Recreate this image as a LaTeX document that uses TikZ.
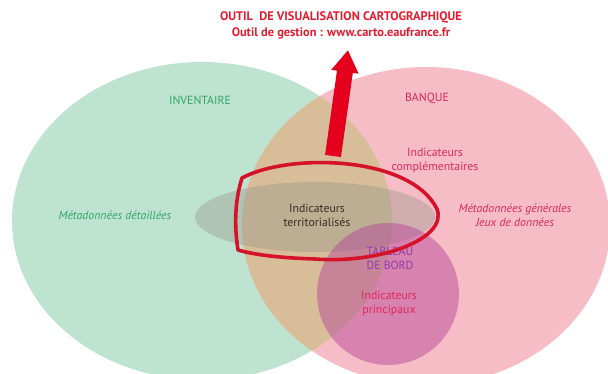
\documentclass[tikz,border=0pt]{standalone}
\usepackage{fontspec}
\setmainfont{PT Sans}
\usetikzlibrary{arrows.meta}
\definecolor{greenfill}{RGB}{190,228,209}
\definecolor{pinkfill}{RGB}{247,189,198}
\definecolor{tanfill}{RGB}{216,190,152}
\definecolor{grayover}{RGB}{150,150,140}
\definecolor{magover}{RGB}{180,60,150}
\definecolor{redline}{RGB}{214,18,40}
\definecolor{arrowred}{RGB}{228,0,28}
\definecolor{titlered}{RGB}{226,28,48}
\definecolor{greentext}{RGB}{50,165,105}
\definecolor{crimson}{RGB}{222,40,90}
\definecolor{purpletext}{RGB}{140,60,170}
\definecolor{darktext}{RGB}{55,45,35}
\begin{document}
\begin{tikzpicture}[x=1pt,y=-1pt,
  lbl/.style={font=\fontsize{11.8}{14}\selectfont, align=center, inner sep=0pt},
  ital/.style={lbl, font=\fontsize{11.8}{14}\selectfont\itshape}]
\useasboundingbox (0,0) rectangle (608,374);
% sets
\fill[greenfill] (202,221) ellipse [x radius=190, y radius=159];
\fill[pinkfill] (426,226) ellipse [x radius=184, y radius=159];
\begin{scope}
  \clip (202,221) ellipse [x radius=190, y radius=159];
  \fill[tanfill] (426,226) ellipse [x radius=184, y radius=159];
\end{scope}
\fill[grayover, opacity=0.4] (315,217) ellipse [x radius=120, y radius=35];
\fill[magover, opacity=0.45] (388,294) circle [radius=71];
% labels
\node[lbl, text=titlered, font=\fontsize{12.4}{16}\selectfont\bfseries] (title) at (341,25)
  {OUTIL\ \ DE VISUALISATION CARTOGRAPHIQUE\\Outil de gestion : www.carto.eaufrance.fr};
\node[lbl, text=greentext] (inventaire) at (200,100) {INVENTAIRE};
\node[lbl, text=crimson] (banque) at (427,98) {BANQUE};
\node[lbl, text=crimson] (compl) at (435,161) {Indicateurs\\compl\'ementaires};
\node[ital, text=greentext] (metadet) at (115,215) {Métadonnées détaillées};
\node[ital, text=crimson] (metagen) at (515,215) {Métadonnées générales\\Jeux de données};
\node[lbl, text=darktext] (territ) at (317,215) {Indicateurs\\territorialisés};
\node[lbl, text=purpletext] (tableau) at (390,258) {TABLEAU\\DE BORD};
\node[lbl, text=crimson] (princ) at (389,304) {Indicateurs\\principaux};
% red outline
\draw[redline, line width=3.6pt, line join=round]
  (242,178) .. controls (288,153) and (410,155) .. (437,209)
  .. controls (448,238) and (382,264) .. (315,259)
  .. controls (282,258) and (255,255) .. (238,250)
  .. controls (234,225) and (235,200) .. (242,178) -- cycle;
% arrow
\coordinate (arrowbase) at (333,156);
\coordinate (arrowtip) at (348,50);
\draw[arrowred, line width=16pt, -{Triangle[width=26pt,length=22pt]}] (arrowbase) -- (arrowtip);
\end{tikzpicture}
\end{document}
